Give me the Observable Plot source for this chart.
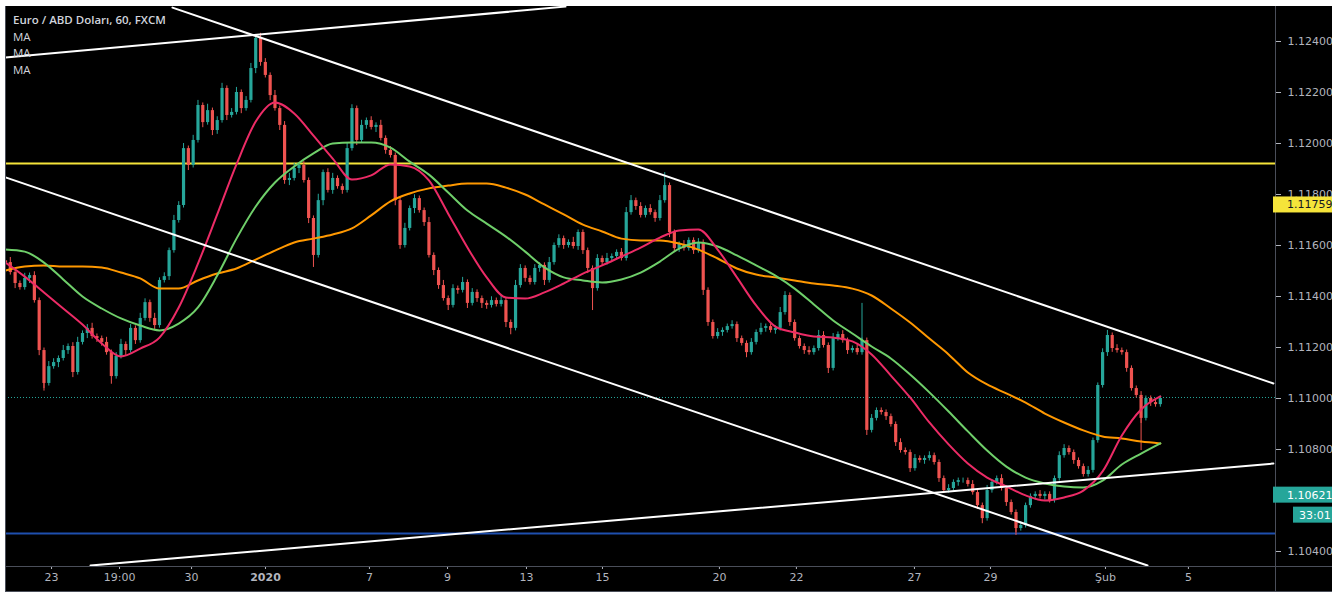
<!DOCTYPE html>
<html><head><meta charset="utf-8">
<script src="https://cdn.jsdelivr.net/npm/d3@7"></script>
<script src="https://cdn.jsdelivr.net/npm/@observablehq/plot@0.6"></script>
<style>
html,body{margin:0;padding:0;background:#fff;}
#wrap{position:absolute;left:5px;top:6px;width:1327px;height:586px;background:#000;overflow:hidden;}
#legend{position:absolute;left:8px;top:6px;font-family:"Open Sans",sans-serif;color:#d1d4dc;font-size:11.5px;line-height:16.5px;z-index:2;pointer-events:none;}
#legend .t{font-weight:600;}
#chart svg{display:block;}
</style></head><body>
<div id="wrap"><div id="legend"><div class="t">Euro / ABD Doları, 60, FXCM</div><div>MA</div><div>MA</div><div>MA</div></div><div id="chart"></div></div>
<script>
// ---- data (hourly EUR/USD, one candle every 3 bars) ----
const firstOpen = 1.11540;
const closes = [
1.11533,1.11494,1.11451,1.11435,1.11471,1.11482,1.11384,1.11188,1.11059,1.11125,
1.11141,1.11157,1.11188,1.11204,1.11102,1.11220,1.11255,1.11275,1.11243,1.11235,
1.11220,1.11180,1.11086,1.11165,1.11212,1.11188,1.11275,1.11227,1.11314,1.11376,
1.11314,1.11286,1.11463,1.11478,1.11580,1.11698,1.11757,1.11980,1.11914,1.12012,
1.12149,1.12082,1.12129,1.12051,1.12090,1.12216,1.12110,1.12122,1.12200,1.12137,
1.12169,1.12294,1.12412,1.12318,1.12267,1.12188,1.12137,1.12071,1.11855,1.11863,
1.11902,1.11914,1.11855,1.11706,1.11561,1.11776,1.11886,1.11816,1.11863,1.11831,
1.11816,1.11980,1.12137,1.12012,1.12071,1.12090,1.12063,1.12071,1.12020,1.11973,
1.11953,1.11776,1.11600,1.11667,1.11745,1.11784,1.11737,1.11690,1.11561,1.11502,
1.11443,1.11392,1.11365,1.11431,1.11424,1.11455,1.11373,1.11416,1.11392,1.11373,
1.11365,1.11384,1.11369,1.11384,1.11298,1.11275,1.11443,1.11510,1.11471,1.11455,
1.11510,1.11522,1.11463,1.11533,1.11600,1.11627,1.11600,1.11612,1.11596,1.11651,
1.11580,1.11510,1.11431,1.11549,1.11533,1.11549,1.11557,1.11573,1.11549,1.11729,
1.11776,1.11753,1.11718,1.11745,1.11729,1.11706,1.11776,1.11835,1.11651,1.11588,
1.11604,1.11588,1.11620,1.11580,1.11612,1.11424,1.11298,1.11243,1.11259,1.11267,
1.11282,1.11290,1.11235,1.11216,1.11180,1.11220,1.11259,1.11275,1.11282,1.11267,
1.11275,1.11337,1.11404,1.11298,1.11235,1.11204,1.11188,1.11180,1.11196,1.11247,
1.11208,1.11118,1.11235,1.11251,1.11227,1.11188,1.11196,1.11180,1.11227,1.10875,
1.10922,1.10953,1.10945,1.10929,1.10898,1.10827,1.10796,1.10788,1.10725,1.10765,
1.10757,1.10765,1.10776,1.10749,1.10686,1.10639,1.10647,1.10671,1.10678,1.10678,
1.10663,1.10631,1.10580,1.10529,1.10639,1.10671,1.10686,1.10647,1.10592,1.10553,
1.10490,1.10502,1.10580,1.10616,1.10624,1.10616,1.10624,1.10600,1.10686,1.10776,
1.10804,1.10788,1.10757,1.10733,1.10702,1.10718,1.10835,1.11051,1.11180,1.11247,
1.11196,1.11188,1.11180,1.11118,1.11039,1.11012,1.10922,1.11000,1.10984,1.10976,1.11000
];
// wick lengths beyond the body, in pips
const upWick = [
1,2,1.5,1,2,1,1.5,1,1,2, 1.5,1,2,1,1.5,2,1,1.5,2,1, 1,2,1,1.5,2,1,1.5,1,2,1.5,
1,2,1,1.5,1,2,1.5,2,1,2, 2,1,2.5,1,1.5,2,1,1.5,2,1, 1.5,2,1,2,1.5,1,2,1,1.5,2,
2,1,1.5,1,1,2.5,1,1.5,2,1, 1,2,1.5,1,2,1,1.5,1,2,1, 1.5,1,1,2,1,1.5,1,1,2,1,
1,2,1,1.5,1,2,1,1.5,1,1, 1,1.5,1,2,1,1,2,1.5,1,1, 1.5,1,1,2,1,1.5,1,1,2,1,
1,1,1,1.5,1,2,1,1,1.5,2, 2,1,1.5,1,1.5,1,2,1,1,1, 1,1.5,1,1,1.5,1,1,1,1.5,1,
1,1.5,1,1,1,1.5,1,2,1,1, 1,2,1.5,1,1,1,1,1.5,1,2, 1.5,1,2,1,1.5,1,1,1.5,1,1,
1.5,1,1,1,1,1,1.5,1,1,1.5, 1,1,1.5,1,1,1,1.5,1,1,1, 1,1.5,1,1,2,1,1,1.5,1,1,
1,1.5,1,1,1,1.5,1,1,1,1.5, 1.5,1,1,1,1,1.5,1,1,1.5,2, 1,1.5,1,1,1,1,1.5,1,1,1.5,1];
const downWick = [
1.5,1,2,1,1,2,1,2,3,1, 1,2,1,1.5,2,1,1,2,1,1.5, 1.5,1,3,1,1,2,1,1.5,1,1,
1.5,2,1,1,1.5,1,1,1,2,1, 1,2,1,2,1.5,1,2,1,1,2, 1,1,2,1.5,1,2,1,2,1.5,2,
1,2,1,2,1,1,2,1,1.5,1, 1.5,1,1,2,1,1.5,1,2,1,1.5, 1,2,1.5,1,1,2,1,1.5,1,2,
1.5,1,2,1,1.5,1,2,1,1.5,2, 1.5,1,1,1,2,2.5,1,1,1.5,1, 1,1.5,2,1,1,1,1.5,1,1,1.5,
1.5,2,1,1,1.5,1,1,1.5,1,1, 1,1.5,1,1,1,1.5,1,1,2,1.5, 1.5,1,1,1.5,1,2,1.5,1,1,1.5,
1,1,1.5,1,2,1,1,1,1.5,1, 1.5,1,1,1.5,1,1,1.5,1,1,1, 1,2,1,1,1,1.5,1,1,1,2,
1,1,1,1.5,1,1.5,1,1,1.5,1, 1,1.5,1,1,1.5,1,1,1,1.5,1, 1,1,1.5,2,1,1,1,1,1.5,1,
1.5,1,1,1,1.5,1,1.5,1,1,1, 1,1,1.5,1,1,1,1,1,1,1.5, 1.5,1,1,1.5,1,1,2,1,1.5,1,1];
const barStep = 3;
const pip = 0.0001;
// notable long wicks: candle number, high, low
const wickIdx  = [8, 52, 64, 122, 137, 178, 210, 236];
const wickHigh = [1.11188, 1.12424, 1.11706, 1.11510, 1.11886, 1.11373, 1.10553, 1.11012];
const wickLow  = [1.11039, 1.12294, 1.11514, 1.11345, 1.11776, 1.11180, 1.10463, 1.10796];

// moving averages, one value every 12 bars
const maStep = 12;
const maFast = [
1.11533,1.11478,1.11416,1.11353,1.11290,1.11216,1.11165,1.11196,1.11239,1.11357,
1.11529,1.11722,1.11918,1.12086,1.12161,1.12118,1.12031,1.11941,1.11859,1.11875,
1.11918,1.11910,1.11855,1.11725,1.11592,1.11475,1.11396,1.11392,1.11416,1.11451,
1.11490,1.11522,1.11557,1.11592,1.11631,1.11659,1.11663,1.11584,1.11475,1.11365,
1.11282,1.11259,1.11243,1.11239,1.11224,1.11173,1.11090,1.11004,1.10906,1.10820,
1.10745,1.10690,1.10655,1.10620,1.10600,1.10612,1.10639,1.10714,1.10855,1.10957,1.11008];
const maMid = [
1.11584,1.11576,1.11533,1.11467,1.11400,1.11353,1.11314,1.11286,1.11267,1.11294,
1.11357,1.11482,1.11627,1.11753,1.11847,1.11910,1.11961,1.12000,1.12004,1.12004,
1.11984,1.11929,1.11878,1.11808,1.11737,1.11686,1.11635,1.11576,1.11514,1.11475,
1.11463,1.11455,1.11467,1.11494,1.11537,1.11588,1.11612,1.11596,1.11561,1.11522,
1.11482,1.11431,1.11369,1.11306,1.11255,1.11204,1.11157,1.11094,1.11024,1.10949,
1.10871,1.10796,1.10733,1.10690,1.10667,1.10655,1.10651,1.10678,1.10741,1.10784,1.10824];
const maSlow = [
1.11502,1.11518,1.11522,1.11518,1.11518,1.11514,1.11494,1.11471,1.11431,1.11431,
1.11463,1.11490,1.11510,1.11545,1.11580,1.11612,1.11627,1.11643,1.11667,1.11718,
1.11773,1.11804,1.11824,1.11835,1.11843,1.11843,1.11827,1.11800,1.11761,1.11722,
1.11682,1.11655,1.11627,1.11620,1.11620,1.11608,1.11584,1.11549,1.11510,1.11486,
1.11475,1.11463,1.11451,1.11443,1.11431,1.11404,1.11353,1.11298,1.11235,1.11173,
1.11102,1.11055,1.11020,1.10984,1.10941,1.10906,1.10875,1.10851,1.10843,1.10831,1.10824];

// drawn trend lines: [bar, price] endpoints
const trendIds    = ["upperDown", "upperDown", "lowerDown", "lowerDown", "topUp", "topUp", "bottomUp", "bottomUp"];
const trendBars   = [104.1, 790.5, 0, 712, 0, 349.1, 53, 790.5];
const trendPrices = [1.12533, 1.11059, 1.11867, 1.10345, 1.12337, 1.12537, 1.10345, 1.10745];

const yellowLevel = 1.11922;
const blueLevel = 1.10471;
const lastPrice = 1.11004;
const yellowLabel = 1.11759;
const tealLabel = 1.10621;
const countdown = "33:01";

const tickBars   = [28.7, 71.1, 116, 162.1, 226.9, 275.6, 324.8, 372.2, 445.1, 493.1, 566.7, 614.1, 685.8, 737.5];
const tickLabels = ["23", "19:00", "30", "2020", "7", "9", "13", "15", "20", "22", "27", "29", "Şub", "5"];
const boldLabels = ["2020"];
const priceTicks = [1.104, 1.108, 1.110, 1.112, 1.114, 1.116, 1.118, 1.120, 1.122, 1.124];

// ---- build rows ----
const up = "#26a69a", down = "#ef5350";
const candles = closes.map((c, i) => {
  const open = i ? closes[i - 1] : firstOpen;
  return {bar: i * barStep, open, close: c, up: c >= open,
          hi: Math.max(open, c) + upWick[i] * pip, lo: Math.min(open, c) - downWick[i] * pip};
});
const wicks = wickIdx.map((k, i) => ({bar: k * barStep, hi: wickHigh[i], lo: wickLow[i], up: candles[k].up}));
const maRows = maFast.map((v, i) => ({bar: i * maStep, fast: v, mid: maMid[i], slow: maSlow[i]}));
const trendRows = trendIds.map((id, i) => ({id, bar: trendBars[i], price: trendPrices[i]}));
const labelMap = new Map(tickBars.map((b, i) => [b, tickLabels[i]]));

const W = 1327, H = 586, mR = 57, mB = 26;
const ups = candles.filter(d => d.up), downs = candles.filter(d => !d.up);
const chart = Plot.plot({
  width: W, height: H,
  marginLeft: 0, marginRight: mR, marginTop: 0, marginBottom: mB,
  style: {background: "#000", color: "#b2b5be", fontFamily: "DejaVu Sans, sans-serif", fontSize: "11px"},
  x: {domain: [0, 791.8]},
  y: {domain: [1.103412, 1.125373]},
  marks: [
    Plot.ruleY([lastPrice], {stroke: up, strokeDasharray: "1,2", strokeWidth: 1}),
    Plot.ruleY([yellowLevel], {stroke: "#f5e43a", strokeWidth: 2}),
    Plot.ruleY([blueLevel], {stroke: "#1e4fae", strokeWidth: 2}),
    Plot.ruleX(ups, {x: "bar", y1: "lo", y2: "hi", stroke: up, strokeWidth: 1}),
    Plot.ruleX(downs, {x: "bar", y1: "lo", y2: "hi", stroke: down, strokeWidth: 1}),
    Plot.ruleX(wicks.filter(d => d.up), {x: "bar", y1: "lo", y2: "hi", stroke: up, strokeWidth: 1}),
    Plot.ruleX(wicks.filter(d => !d.up), {x: "bar", y1: "lo", y2: "hi", stroke: down, strokeWidth: 1}),
    Plot.ruleX(ups, {x: "bar", y1: "open", y2: "close", stroke: up, strokeWidth: 3.2}),
    Plot.ruleX(downs, {x: "bar", y1: "open", y2: "close", stroke: down, strokeWidth: 3.2}),
    Plot.line(maRows, {x: "bar", y: "slow", stroke: "#ff9800", strokeWidth: 2, curve: "monotone-x"}),
    Plot.line(maRows, {x: "bar", y: "mid", stroke: "#6fcf6a", strokeWidth: 2, curve: "monotone-x"}),
    Plot.line(maRows, {x: "bar", y: "fast", stroke: "#ec2b66", strokeWidth: 2, curve: "monotone-x"}),
    Plot.line(trendRows, {x: "bar", y: "price", z: "id", stroke: "#ffffff", strokeWidth: 2, clip: true}),
    Plot.axisY({anchor: "right", ticks: priceTicks, tickFormat: d3.format(".5f"), tickSize: 5, tickPadding: 7, label: null}),
    Plot.axisX({ticks: tickBars, tickFormat: d => labelMap.get(d), tickSize: 3, tickPadding: 4, label: null})
  ]
});
document.getElementById("chart").appendChild(chart);

// ---- frame lines and price labels ----
const svg = d3.select(chart);
const xs = chart.scale("x"), ys = chart.scale("y");
const plotR = xs.range[1], plotB = ys.range[0];
svg.selectAll("text").filter(function() { return boldLabels.includes(this.textContent); }).attr("font-weight", "bold");
const border = "#4a4e59";
svg.append("line").attr("x1", 0.5).attr("x2", 0.5).attr("y1", 0).attr("y2", H).attr("stroke", border);
svg.append("line").attr("x1", plotR + 0.5).attr("x2", plotR + 0.5).attr("y1", 0).attr("y2", H).attr("stroke", border);
svg.append("line").attr("x1", 0).attr("x2", W).attr("y1", plotB + 0.5).attr("y2", plotB + 0.5).attr("stroke", border);
svg.append("line").attr("x1", 0).attr("x2", W).attr("y1", H - 0.5).attr("y2", H - 0.5).attr("stroke", border);

function tag(yPix, x0, tx, bg, fg, text) {
  svg.append("rect").attr("x", x0).attr("y", yPix - 8).attr("width", W - x0).attr("height", 16).attr("fill", bg);
  svg.append("text").attr("x", tx).attr("y", yPix).attr("dy", "0.35em").attr("fill", fg)
    .attr("text-anchor", "start").attr("font-family", "DejaVu Sans, sans-serif").attr("font-size", 11).text(text);
}
tag(ys.apply(yellowLabel), plotR - 2, plotR + 12, "#f5e43a", "#131722", d3.format(".5f")(yellowLabel));
tag(ys.apply(tealLabel), plotR - 2, plotR + 12, up, "#ffffff", d3.format(".5f")(tealLabel));
tag(ys.apply(tealLabel) + 20, plotR + 18, plotR + 24, up, "#ffffff", countdown);
</script>
</body></html>
